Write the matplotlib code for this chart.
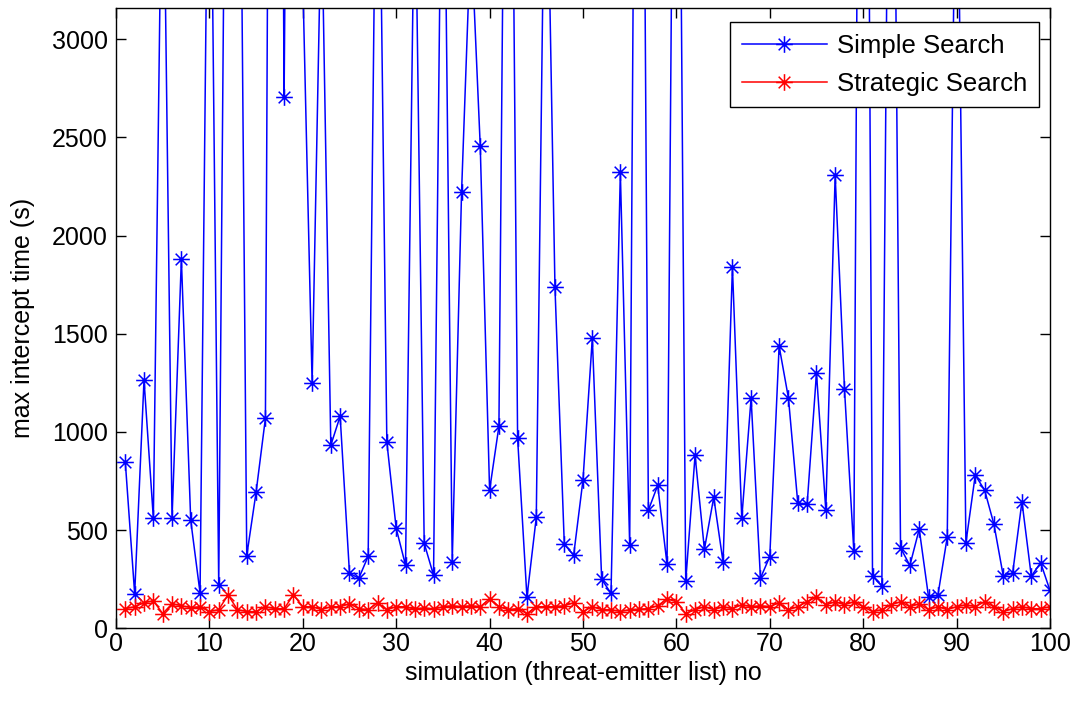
import numpy as np
import matplotlib
matplotlib.use('Agg')
import matplotlib.pyplot as plt
from matplotlib.path import Path

plt.rcParams['font.family'] = ['Liberation Sans', 'DejaVu Sans']

# simulation number 1..100
sim_no = np.arange(1, 101)

# max intercept time (s), simple search (values above ~3160 run off the chart)
simple_search = [
    845, 175, 1265, 560, 4300, 560, 1880, 550, 180, 4800,
    220, 6000, 5900, 370, 693, 1070, 11000, 2705, 9000, 3300,
    1248, 3700, 932, 1080, 280, 255, 367, 4800, 948, 509,
    321, 3950, 433, 270, 4700, 336, 2221, 3550, 2455, 703,
    1029, 6500, 968, 158, 565, 4400, 1737, 428, 372, 755,
    1477, 250, 178, 2323, 423, 8000, 601, 728, 326, 6500,
    239, 881, 402, 667, 336, 1839, 560, 1172, 255, 365,
    1437, 1172, 637, 632, 1300, 600, 2307, 1218, 392, 9000,
    264, 217, 6000, 410, 320, 505, 159, 168, 464, 4400,
    436, 780, 704, 530, 266, 280, 645, 265, 334, 193,
]

# max intercept time (s), strategic search
strategic_search = [
    100, 110, 130, 140, 75, 125, 115, 105, 110, 85,
    95, 170, 95, 85, 85, 110, 100, 100, 170, 110,
    110, 95, 110, 110, 125, 100, 95, 130, 95, 110,
    110, 97, 105, 97, 110, 115, 110, 115, 110, 150,
    110, 95, 100, 75, 110, 110, 110, 115, 130, 85,
    110, 95, 95, 85, 95, 97, 100, 115, 150, 135,
    75, 95, 110, 95, 110, 100, 120, 110, 115, 110,
    130, 95, 110, 135, 160, 120, 135, 120, 135, 110,
    85, 95, 120, 135, 110, 125, 95, 110, 95, 110,
    120, 110, 135, 110, 85, 100, 110, 100, 100, 110,
]

# matlab style asterisk marker
verts = [(-1, 0), (1, 0), (0, -1), (0, 1), (-.7, -.7), (.7, .7), (-.7, .7), (.7, -.7)]
codes = [Path.MOVETO, Path.LINETO] * 4
asterisk = Path(verts, codes)

fig = plt.figure(figsize=(10.78, 7.02), dpi=100)
ax = fig.add_axes([0.1076, 0.105, 0.8664, 0.884])

ax.plot(sim_no, simple_search, color='blue', lw=1.1, marker=asterisk, ms=12,
        mfc='none', mew=1.1, label='Simple Search')
ax.plot(sim_no, strategic_search, color='red', lw=1.1, marker=asterisk, ms=12,
        mfc='none', mew=1.1, label='Strategic Search')

ax.set_xlim(0, 100)
ax.set_ylim(0, 3160)
ax.set_xticks(np.arange(0, 101, 10))
ax.set_yticks(np.arange(0, 3001, 500))
ax.tick_params(direction='in', top=True, right=True, length=7, width=1,
               labelsize=18)
ax.tick_params(axis='y', pad=6)
ax.tick_params(axis='x', pad=3)
for s in ax.spines.values():
    s.set_linewidth(1.0)

ax.set_xlabel('simulation (threat-emitter list) no', fontsize=18, labelpad=3)
ax.set_ylabel('max intercept time (s)', fontsize=18, labelpad=12)

leg = ax.legend(loc='upper right', bbox_to_anchor=(0.988, 0.977), borderaxespad=0,
                fontsize=18.5, handlelength=3.3, handletextpad=0.4, borderpad=0.45,
                labelspacing=0.55, fancybox=False, framealpha=1, edgecolor='black')
leg.get_frame().set_linewidth(1.0)

fig.savefig('out.png', dpi=100)
